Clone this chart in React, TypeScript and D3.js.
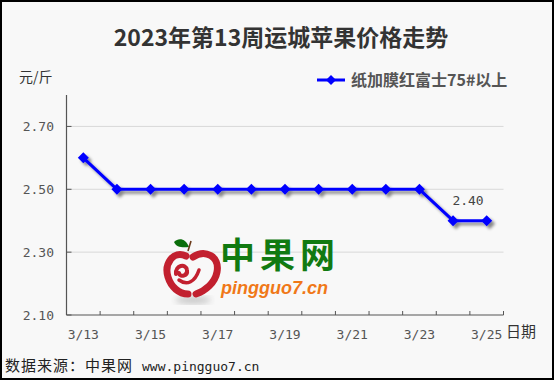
import React from "react";
import * as d3 from "d3";

const dates = ["3/13","3/14","3/15","3/16","3/17","3/18","3/19","3/20","3/21","3/22","3/23","3/24","3/25"];
const prices = [2.60, 2.50, 2.50, 2.50, 2.50, 2.50, 2.50, 2.50, 2.50, 2.50, 2.50, 2.40, 2.40];
const yTicks = [2.10, 2.30, 2.50, 2.70];
const xLabels = ["3/13","3/15","3/17","3/19","3/21","3/23","3/25"];
const seriesName = "纸加膜红富士75#以上";
const title = "2023年第13周运城苹果价格走势";

const W = 556, H = 382;
const left = 66.5, right = 503.5, top = 95, bottom = 315;

export default function App() {
  const x = d3.scaleBand<string>().domain(dates).range([left, right]).padding(0);
  const y = d3.scaleLinear().domain([2.10, 2.80]).range([bottom, top]);
  const cx = (d: string) => (x(d) as number) + x.bandwidth() / 2;
  const line = d3.line<number>().x((_, i) => cx(dates[i])).y((v) => y(v));
  const diamond = (px: number, py: number, r: number) =>
    `M${px},${py - r}L${px + r},${py}L${px},${py + r}L${px - r},${py}Z`;
  const boundaries = dates.map((d) => x(d) as number).concat([right]);
  const lastIdx = dates.length - 1;
  const mono = "'DejaVu Sans Mono', monospace";
  const cjk = "'Noto Sans CJK SC', sans-serif";

  return (
    <svg width={W} height={H} style={{ position: "absolute", left: 0, top: 0 }} fontFamily={cjk}>
      <defs>
        <filter id="sh" x="-10%" y="-10%" width="130%" height="140%">
          <feDropShadow dx="3" dy="3" stdDeviation="1.8" floodColor="#000" floodOpacity="0.45" />
        </filter>
        <filter id="blur"><feGaussianBlur stdDeviation="3" /></filter>
      </defs>
      <rect x={0} y={0} width={W} height={H} fill="#ffffff" />
      <rect x={1} y={1} width={552} height={378} fill="#f8f8f8" stroke="#000" strokeWidth={2} />

      <text x={281} y={46} textAnchor="middle" fontSize={23} fontWeight="bold" fill="#333">{title}</text>
      <text x={19} y={82} fontSize={14} fill="#333">元/斤</text>

      {/* legend */}
      <line x1={317} x2={345} y1={80} y2={80} stroke="#0000ff" strokeWidth={3} />
      <path d={diamond(331, 80, 5)} fill="#0000ff" />
      <text x={351} y={86} fontSize={16} fontWeight="bold" fill="#555">{seriesName}</text>

      {/* grid */}
      {yTicks.filter((t) => t > 2.10).map((t) => (
        <line key={t} x1={left} x2={right} y1={y(t)} y2={y(t)} stroke="#d9d9d9" strokeWidth={1} />
      ))}

      {/* watermark logo */}
      <g transform="translate(155,230)">
        <ellipse cx={38} cy={70} rx={18} ry={4} fill="#999" opacity={0.5} filter="url(#blur)" />
        <path d="M19,12 C24,7 31,9 34,17 C27,18 21,17 19,12 Z" fill="#0b6e0b" />
        <path d="M33,21 L36,11" stroke="#6b3a1a" strokeWidth={1.6} fill="none" />
        <path d="M31,26 C18,20 9,34 13,47 C16,57 24,64 33,64" stroke="#c2202f" strokeWidth={7} fill="none" strokeLinecap="round" />
        <path d="M21,44 C20,35 31,33 32,40 C33,46 25,48 24,43" stroke="#c2202f" strokeWidth={4} fill="none" strokeLinecap="round" />
        <path d="M24,50 C32,56 40,52 44,40" stroke="#c2202f" strokeWidth={3.5} fill="none" strokeLinecap="round" />
        <path d="M38,27 C50,19 65,26 62,42 C60,53 50,61 41,64" stroke="#c2202f" strokeWidth={7} fill="none" strokeLinecap="round" />
      </g>
      <text x={220} y={268} fontSize={35} fontWeight="bold" fill="#117a11" letterSpacing={5}>中果网</text>
      <text x={221} y={294} fontSize={18} fontWeight="bold" fontStyle="italic" fill="#f07818" fontFamily="'Liberation Sans', Arial, sans-serif">pingguo7.cn</text>

      {/* axes */}
      <line x1={left} x2={left} y1={top} y2={bottom} stroke="#555" strokeWidth={1.2} />
      <line x1={left} x2={right} y1={bottom} y2={bottom} stroke="#555" strokeWidth={1.2} />
      {yTicks.map((t) => (
        <g key={t}>
          <line x1={left} x2={left + 5} y1={y(t)} y2={y(t)} stroke="#555" />
          <text x={54} y={y(t) + 4.5} textAnchor="end" fontSize={13} fill="#555" fontFamily={mono}>{t.toFixed(2)}</text>
        </g>
      ))}
      {boundaries.map((b, i) => (
        <line key={i} x1={b} x2={b} y1={bottom} y2={bottom - 4} stroke="#555" />
      ))}
      {xLabels.map((d) => (
        <text key={d} x={cx(d)} y={339} textAnchor="middle" fontSize={13} fill="#555" fontFamily={mono}>{d}</text>
      ))}
      <text x={506} y={337} fontSize={15} fill="#333">日期</text>

      {/* series */}
      <g filter="url(#sh)">
        <path d={line(prices) || ""} fill="none" stroke="#0000ff" strokeWidth={3} strokeLinejoin="round" />
        {prices.map((v, i) => (
          <path key={i} d={diamond(cx(dates[i]), y(v), 5.5)} fill="#0000ff" />
        ))}
      </g>
      <text x={cx(dates[lastIdx]) - 3} y={y(prices[lastIdx]) - 16} textAnchor="end" fontSize={13} fill="#444" fontFamily={mono}>{prices[lastIdx].toFixed(2)}</text>

      {/* footer */}
      <text x={5} y={371} fontSize={15} fill="#222" letterSpacing={1}>数据来源：中果网</text>
      <text x={142} y={371} fontSize={13} fill="#222" fontFamily={mono}>www.pingguo7.cn</text>
    </svg>
  );
}
